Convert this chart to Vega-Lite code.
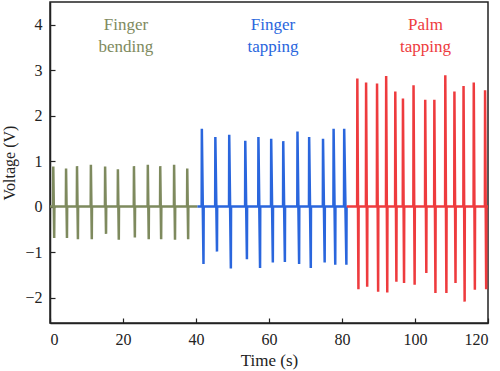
{
  "$schema": "https://vega.github.io/schema/vega-lite/v6.json",
  "autosize": "none",
  "width": 438,
  "height": 321,
  "padding": {"left": 50, "top": 2, "right": 12, "bottom": 48},
  "background": "white",
  "config": {
    "view": {"stroke": "#222", "strokeWidth": 1.5},
    "axis": {
      "labelFont": "Liberation Serif", "labelFontSize": 16, "labelColor": "#222",
      "titleFont": "Liberation Serif", "titleFontSize": 17, "titleFontWeight": "normal", "titleColor": "#222",
      "domainColor": "#222", "domainWidth": 1.5, "tickColor": "#222", "tickWidth": 1.2,
      "tickSize": -5, "grid": false
    }
  },
  "datasets": {
    "sig": [
      {"series":"Finger bending","t":0,"v":0},
      {"series":"Finger bending","t":0.85,"v":0},{"series":"Finger bending","t":0.9,"v":0.88},{"series":"Finger bending","t":1.15,"v":-0.69},{"series":"Finger bending","t":1.2,"v":0},
      {"series":"Finger bending","t":4.35,"v":0},{"series":"Finger bending","t":4.4,"v":0.84},{"series":"Finger bending","t":4.65,"v":-0.69},{"series":"Finger bending","t":4.7,"v":0},
      {"series":"Finger bending","t":7.35,"v":0},{"series":"Finger bending","t":7.4,"v":0.89},{"series":"Finger bending","t":7.65,"v":-0.72},{"series":"Finger bending","t":7.7,"v":0},
      {"series":"Finger bending","t":11.15,"v":0},{"series":"Finger bending","t":11.2,"v":0.92},{"series":"Finger bending","t":11.45,"v":-0.72},{"series":"Finger bending","t":11.5,"v":0},
      {"series":"Finger bending","t":15.05,"v":0},{"series":"Finger bending","t":15.1,"v":0.88},{"series":"Finger bending","t":15.35,"v":-0.6},{"series":"Finger bending","t":15.4,"v":0},
      {"series":"Finger bending","t":18.55,"v":0},{"series":"Finger bending","t":18.6,"v":0.82},{"series":"Finger bending","t":18.85,"v":-0.73},{"series":"Finger bending","t":18.9,"v":0},
      {"series":"Finger bending","t":22.95,"v":0},{"series":"Finger bending","t":23.0,"v":0.89},{"series":"Finger bending","t":23.25,"v":-0.68},{"series":"Finger bending","t":23.3,"v":0},
      {"series":"Finger bending","t":26.75,"v":0},{"series":"Finger bending","t":26.8,"v":0.92},{"series":"Finger bending","t":27.05,"v":-0.72},{"series":"Finger bending","t":27.1,"v":0},
      {"series":"Finger bending","t":30.15,"v":0},{"series":"Finger bending","t":30.2,"v":0.89},{"series":"Finger bending","t":30.45,"v":-0.72},{"series":"Finger bending","t":30.5,"v":0},
      {"series":"Finger bending","t":33.95,"v":0},{"series":"Finger bending","t":34.0,"v":0.92},{"series":"Finger bending","t":34.25,"v":-0.73},{"series":"Finger bending","t":34.3,"v":0},
      {"series":"Finger bending","t":37.55,"v":0},{"series":"Finger bending","t":37.6,"v":0.84},{"series":"Finger bending","t":37.85,"v":-0.72},{"series":"Finger bending","t":37.9,"v":0},
      {"series":"Finger bending","t":40.4,"v":0},

      {"series":"Finger tapping","t":40.4,"v":0},
      {"series":"Finger tapping","t":41.55,"v":0},{"series":"Finger tapping","t":41.6,"v":1.71},{"series":"Finger tapping","t":42.05,"v":-1.26},{"series":"Finger tapping","t":42.1,"v":0},
      {"series":"Finger tapping","t":45.25,"v":0},{"series":"Finger tapping","t":45.3,"v":1.53},{"series":"Finger tapping","t":45.75,"v":-0.99},{"series":"Finger tapping","t":45.8,"v":0},
      {"series":"Finger tapping","t":49.05,"v":0},{"series":"Finger tapping","t":49.1,"v":1.58},{"series":"Finger tapping","t":49.55,"v":-1.36},{"series":"Finger tapping","t":49.6,"v":0},
      {"series":"Finger tapping","t":53.45,"v":0},{"series":"Finger tapping","t":53.5,"v":1.45},{"series":"Finger tapping","t":53.95,"v":-1.16},{"series":"Finger tapping","t":54.0,"v":0},
      {"series":"Finger tapping","t":57.05,"v":0},{"series":"Finger tapping","t":57.1,"v":1.53},{"series":"Finger tapping","t":57.55,"v":-1.35},{"series":"Finger tapping","t":57.6,"v":0},
      {"series":"Finger tapping","t":60.55,"v":0},{"series":"Finger tapping","t":60.6,"v":1.49},{"series":"Finger tapping","t":61.05,"v":-1.23},{"series":"Finger tapping","t":61.1,"v":0},
      {"series":"Finger tapping","t":63.85,"v":0},{"series":"Finger tapping","t":63.9,"v":1.44},{"series":"Finger tapping","t":64.35,"v":-1.22},{"series":"Finger tapping","t":64.4,"v":0},
      {"series":"Finger tapping","t":67.75,"v":0},{"series":"Finger tapping","t":67.8,"v":1.65},{"series":"Finger tapping","t":68.25,"v":-1.26},{"series":"Finger tapping","t":68.3,"v":0},
      {"series":"Finger tapping","t":70.95,"v":0},{"series":"Finger tapping","t":71.0,"v":1.53},{"series":"Finger tapping","t":71.45,"v":-1.35},{"series":"Finger tapping","t":71.5,"v":0},
      {"series":"Finger tapping","t":74.75,"v":0},{"series":"Finger tapping","t":74.8,"v":1.49},{"series":"Finger tapping","t":75.25,"v":-1.23},{"series":"Finger tapping","t":75.3,"v":0},
      {"series":"Finger tapping","t":77.65,"v":0},{"series":"Finger tapping","t":77.7,"v":1.71},{"series":"Finger tapping","t":78.15,"v":-1.28},{"series":"Finger tapping","t":78.2,"v":0},
      {"series":"Finger tapping","t":80.55,"v":0},{"series":"Finger tapping","t":80.6,"v":1.71},{"series":"Finger tapping","t":81.2,"v":-1.28},{"series":"Finger tapping","t":81.25,"v":0},
      {"series":"Finger tapping","t":81.3,"v":0},

      {"series":"Palm tapping","t":81.3,"v":0},
      {"series":"Palm tapping","t":84.15,"v":0},{"series":"Palm tapping","t":84.2,"v":2.82},{"series":"Palm tapping","t":84.5,"v":-1.82},{"series":"Palm tapping","t":84.55,"v":0},
      {"series":"Palm tapping","t":86.55,"v":0},{"series":"Palm tapping","t":86.6,"v":2.73},{"series":"Palm tapping","t":86.9,"v":-1.76},{"series":"Palm tapping","t":86.95,"v":0},
      {"series":"Palm tapping","t":89.55,"v":0},{"series":"Palm tapping","t":89.6,"v":2.71},{"series":"Palm tapping","t":89.9,"v":-1.87},{"series":"Palm tapping","t":89.95,"v":0},
      {"series":"Palm tapping","t":92.05,"v":0},{"series":"Palm tapping","t":92.1,"v":2.87},{"series":"Palm tapping","t":92.4,"v":-1.89},{"series":"Palm tapping","t":92.45,"v":0},
      {"series":"Palm tapping","t":94.55,"v":0},{"series":"Palm tapping","t":94.6,"v":2.53},{"series":"Palm tapping","t":94.9,"v":-1.65},{"series":"Palm tapping","t":94.95,"v":0},
      {"series":"Palm tapping","t":96.65,"v":0},{"series":"Palm tapping","t":96.7,"v":2.38},{"series":"Palm tapping","t":97.0,"v":-1.68},{"series":"Palm tapping","t":97.05,"v":0},
      {"series":"Palm tapping","t":99.55,"v":0},{"series":"Palm tapping","t":99.6,"v":2.67},{"series":"Palm tapping","t":99.9,"v":-1.72},{"series":"Palm tapping","t":99.95,"v":0},
      {"series":"Palm tapping","t":102.75,"v":0},{"series":"Palm tapping","t":102.8,"v":2.35},{"series":"Palm tapping","t":103.1,"v":-1.46},{"series":"Palm tapping","t":103.15,"v":0},
      {"series":"Palm tapping","t":105.25,"v":0},{"series":"Palm tapping","t":105.3,"v":2.35},{"series":"Palm tapping","t":105.6,"v":-1.9},{"series":"Palm tapping","t":105.65,"v":0},
      {"series":"Palm tapping","t":108.25,"v":0},{"series":"Palm tapping","t":108.3,"v":2.89},{"series":"Palm tapping","t":108.6,"v":-1.9},{"series":"Palm tapping","t":108.65,"v":0},
      {"series":"Palm tapping","t":110.75,"v":0},{"series":"Palm tapping","t":110.8,"v":2.53},{"series":"Palm tapping","t":111.1,"v":-1.68},{"series":"Palm tapping","t":111.15,"v":0},
      {"series":"Palm tapping","t":113.25,"v":0},{"series":"Palm tapping","t":113.3,"v":2.65},{"series":"Palm tapping","t":113.6,"v":-2.09},{"series":"Palm tapping","t":113.65,"v":0},
      {"series":"Palm tapping","t":116.05,"v":0},{"series":"Palm tapping","t":116.1,"v":2.73},{"series":"Palm tapping","t":116.4,"v":-1.83},{"series":"Palm tapping","t":116.45,"v":0},
      {"series":"Palm tapping","t":119.15,"v":0},{"series":"Palm tapping","t":119.2,"v":2.56},{"series":"Palm tapping","t":119.5,"v":-1.82},{"series":"Palm tapping","t":119.55,"v":0},
      {"series":"Palm tapping","t":120,"v":0}
    ],
    "labels": [
      {"series":"Finger bending","t":20.8,"v":3.88,"lines":["Finger","bending"]},
      {"series":"Finger tapping","t":61.1,"v":3.88,"lines":["Finger","tapping"]},
      {"series":"Palm tapping","t":102.9,"v":3.88,"lines":["Palm","tapping"]}
    ]
  },
  "layer": [
    {
      "data": {"name": "sig"},
      "mark": {"type": "line", "strokeWidth": 2.5, "strokeJoin": "miter", "clip": true},
      "encoding": {
        "x": {"field": "t", "type": "quantitative",
              "scale": {"domain": [0, 120], "nice": false, "zero": false},
              "axis": {"title": "Time (s)", "values": [0, 20, 40, 60, 80, 100, 120], "labelPadding": 13, "titlePadding": 5}},
        "y": {"field": "v", "type": "quantitative",
              "scale": {"domain": [-2.56, 4.5], "nice": false, "zero": false},
              "axis": {"title": "Voltage (V)", "titleFontSize": 16, "values": [-2, -1, 0, 1, 2, 3, 4], "labelPadding": 13, "titlePadding": 7}},
        "color": {"field": "series", "type": "nominal",
                  "scale": {"domain": ["Finger bending", "Finger tapping", "Palm tapping"], "range": ["#7e8a5e", "#2a66dd", "#ee3b3e"]},
                  "legend": null},
        "order": {"field": "t", "type": "quantitative"}
      }
    },
    {
      "data": {"name": "labels"},
      "mark": {"type": "text", "font": "Liberation Serif", "fontSize": 17, "align": "center", "baseline": "alphabetic", "lineHeight": 21.7},
      "encoding": {
        "x": {"field": "t", "type": "quantitative"},
        "y": {"field": "v", "type": "quantitative"},
        "text": {"field": "lines"},
        "color": {"field": "series", "type": "nominal", "legend": null}
      }
    }
  ]
}
